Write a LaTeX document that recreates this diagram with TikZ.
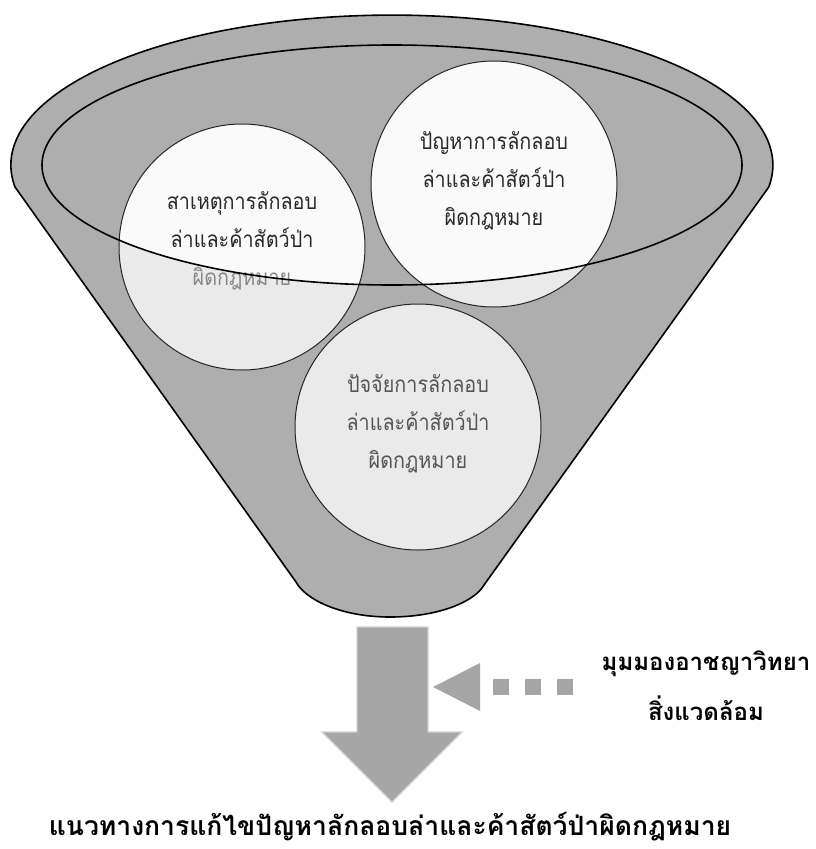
\documentclass[tikz,border=0pt]{standalone}
\usepackage{fontspec}
\newfontfamily\thai[Script=Thai]{Loma}
\newfontfamily\thaicond[Script=Thai,FakeStretch=0.88]{Loma}
\definecolor{funnelgray}{RGB}{174,174,174}
\definecolor{arrowgray}{RGB}{166,166,166}
\definecolor{circout}{RGB}{234,234,234}
\definecolor{circin}{RGB}{250,250,250}
\definecolor{textdark}{RGB}{40,40,40}
\definecolor{textmid}{RGB}{85,85,85}
\definecolor{textfade}{RGB}{135,135,135}
\tikzset{
  funnel/.style={fill=funnelgray, draw=black, line width=1.6pt, line join=round},
  rimline/.style={draw=black, line width=1.6pt},
  bubble/.style={circle, draw=black!85, line width=1pt, minimum size=246pt, inner sep=0pt},
  bubbletext/.style={align=center, inner sep=0pt, font=\thaicond\fontsize{22.5}{38}\selectfont},
  sidetext/.style={anchor=base, inner sep=0pt, font=\thai\bfseries\fontsize{24}{28}\selectfont},
  bottomtext/.style={anchor=base, inner sep=0pt, font=\thai\bfseries\fontsize{26.5}{30}\selectfont},
  bigarrow/.style={fill=arrowgray, draw=black!18, line width=1.2pt, line join=miter},
  smallarrow/.style={fill=arrowgray, draw=none}
}
\begin{document}
\begin{tikzpicture}[x=1pt,y=-1pt]
\useasboundingbox (0,0) rectangle (815,849);
% funnel body
\filldraw[funnel] (15,187) arc[start angle=188.4, end angle=-8.4, x radius=381pt, y radius=150pt]
  -- (484,585) .. controls (475,601) and (440,617) .. (390,617)
  .. controls (340,617) and (305,599) .. (296,582) -- cycle;
% circle fills
\fill[circout] (242,247) circle (123pt);
\fill[circout] (494,184) circle (123pt);
\fill[circout] (418,427) circle (123pt);
\begin{scope}
  \clip (392,165) ellipse [x radius=350pt, y radius=120pt];
  \fill[circin] (242,247) circle (123pt);
  \fill[circin] (494,184) circle (123pt);
\end{scope}
% circles
\node[bubble] (c1) at (242,247) {};
\node[bubble] (c2) at (494,184) {};
\node[bubble] (c3) at (418,427) {};
\node[bubbletext, text=textdark, yshift=6pt] (t1) at (c1) {สาเหตุการลักลอบ\\ล่าและค้าสัตว์ป่า\\{\color{textfade}ผิดกฎหมาย}};
\node[bubbletext, text=textdark, yshift=3pt] (t2) at (c2) {ปัญหาการลักลอบ\\ล่าและค้าสัตว์ป่า\\ผิดกฎหมาย};
\node[bubbletext, text=textmid, yshift=3pt] (t3) at (c3) {ปัจจัยการลักลอบ\\ล่าและค้าสัตว์ป่า\\ผิดกฎหมาย};
% rim of funnel
\draw[rimline] (392,165) ellipse [x radius=350pt, y radius=120pt];
% big down arrow
\draw[bigarrow] (357,627) -- (428,627) -- (428,732) -- (462,732) -- (392,802)
  -- (322,732) -- (357,732) -- cycle;
% small dotted arrow
\fill[smallarrow] (433,687) -- (480,663) -- (480,711) -- cycle;
\fill[smallarrow] (493,679) rectangle (509,695);
\fill[smallarrow] (525,679) rectangle (541,695);
\fill[smallarrow] (557,679) rectangle (573,695);
% texts
\node[sidetext] (s1) at (706,670) {มุมมองอาชญาวิทยา};
\node[sidetext] (s2) at (706,720) {สิ่งแวดล้อม};
\node[bottomtext] (b) at (390,835) {แนวทางการแก้ไขปัญหาลักลอบล่าและค้าสัตว์ป่าผิดกฎหมาย};
\end{tikzpicture}
\end{document}
